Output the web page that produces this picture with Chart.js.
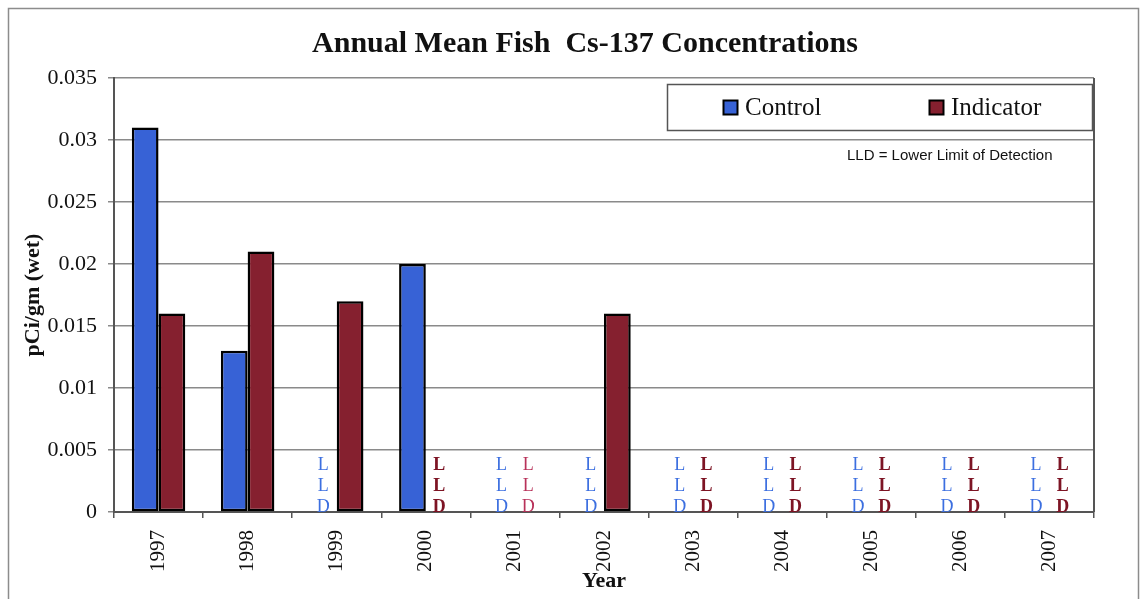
<!DOCTYPE html>
<html>
<head>
<meta charset="utf-8">
<title>Annual Mean Fish Cs-137 Concentrations</title>
<script src="https://cdn.jsdelivr.net/npm/chart.js@4.4.1/dist/chart.umd.min.js"></script>
<style>
  html, body { margin: 0; padding: 0; background: #fff; }
  #wrap { width: 1141px; height: 599px; }
</style>
</head>
<body>
<div id="wrap"><canvas id="fish" width="1141" height="599"></canvas></div>
<script>
// data (null = below LLD)
const years = ['1997', '1998', '1999', '2000', '2001', '2002', '2003', '2004', '2005', '2006', '2007'];
const control = [0.031, 0.013, null, 0.020, null, null, null, null, null, null, null];
const indicator = [0.016, 0.021, 0.017, null, null, 0.016, null, null, null, null, null];
const yTickLabels = ['0', '0.005', '0.01', '0.015', '0.02', '0.025', '0.03', '0.035'];
const lldLetters = ['L', 'L', 'D'];
const lldLevels = [0.0038, 0.0021, 0.0004];

const serif = "'Liberation Serif', 'Times New Roman', serif";
const sans = "'Liberation Sans', Arial, sans-serif";
const catPct = 0.6;

// title, legend box, LLD note, frame, LLD letters
const extras = {
    id: 'extras',
    afterDraw(chart) {
        const ctx = chart.ctx;
        const area = chart.chartArea;
        const xs = chart.scales.x;
        const ys = chart.scales.y;
        ctx.save();

        // outer frame
        ctx.strokeStyle = '#8c8c8c';
        ctx.lineWidth = 1.5;
        ctx.strokeRect(8.5, 8.5, 1130, 596);

        // right border of the plot
        ctx.strokeStyle = '#555';
        ctx.lineWidth = 2;
        ctx.beginPath();
        ctx.moveTo(area.right, area.top);
        ctx.lineTo(area.right, area.bottom);
        ctx.stroke();

        // title
        ctx.fillStyle = '#111';
        ctx.font = 'bold 30px ' + serif;
        ctx.textAlign = 'center';
        ctx.textBaseline = 'alphabetic';
        ctx.fillText('Annual Mean Fish  Cs-137 Concentrations', 585, 52);

        // legend box
        ctx.fillStyle = '#fff';
        ctx.fillRect(667, 84, 426, 47);
        ctx.strokeStyle = '#555';
        ctx.lineWidth = 1.5;
        ctx.strokeRect(667.5, 84.5, 425, 46);
        const legendX = [723, 929];
        ctx.font = '25px ' + serif;
        ctx.textAlign = 'left';
        ctx.textBaseline = 'middle';
        chart.data.datasets.forEach((ds, i) => {
            ctx.fillStyle = ds.backgroundColor;
            ctx.fillRect(legendX[i], 100, 15, 15);
            ctx.strokeStyle = '#000';
            ctx.lineWidth = 2;
            ctx.strokeRect(legendX[i] + 0.5, 100.5, 14, 14);
            ctx.fillStyle = '#111';
            ctx.fillText(ds.label, legendX[i] + 22, 108);
        });

        // LLD note
        ctx.font = '15px ' + sans;
        ctx.fillStyle = '#111';
        ctx.fillText('LLD = Lower Limit of Detection', 847, 156);

        // LLD letters where a year has no value
        const step = xs.getPixelForValue(1) - xs.getPixelForValue(0);
        const shift = step * catPct / 4;
        ctx.textAlign = 'center';
        chart.data.datasets.forEach((ds, i) => {
            ds.data.forEach((v, j) => {
                if (v !== null) return;
                const x = xs.getPixelForValue(j) + (i === 0 ? -shift : shift);
                if (i === 0) {
                    ctx.font = '18px ' + serif;
                    ctx.fillStyle = '#3c6fe0';
                } else if (years[j] === '2001') {
                    ctx.font = '18px ' + serif;
                    ctx.fillStyle = '#b8325a';
                } else {
                    ctx.font = 'bold 18px ' + serif;
                    ctx.fillStyle = '#7d1424';
                }
                lldLetters.forEach((ch, k) => {
                    ctx.fillText(ch, x, ys.getPixelForValue(lldLevels[k]));
                });
            });
        });
        ctx.restore();
    }
};

new Chart(document.getElementById('fish'), {
    type: 'bar',
    data: {
        labels: years,
        datasets: [
            {
                label: 'Control',
                data: control,
                backgroundColor: '#3762d6',
                borderColor: '#000',
                borderWidth: 2.5,
                borderSkipped: false
            },
            {
                label: 'Indicator',
                data: indicator,
                backgroundColor: '#85202f',
                borderColor: '#000',
                borderWidth: 2.5,
                borderSkipped: false
            }
        ]
    },
    options: {
        responsive: false,
        animation: false,
        datasets: {
            bar: { categoryPercentage: catPct, barPercentage: 1.0 }
        },
        layout: {
            padding: { left: 8, right: 47, top: 78, bottom: 0 }
        },
        scales: {
            x: {
                afterFit(scale) { scale.height = 87; },
                grid: {
                    display: true,
                    drawOnChartArea: false,
                    tickLength: 6,
                    color: '#555',
                    lineWidth: 1.5
                },
                border: { color: '#555', width: 2 },
                ticks: {
                    autoSkip: false,
                    minRotation: 90,
                    maxRotation: 90,
                    padding: 12,
                    color: '#111',
                    font: { family: serif, size: 21 }
                },
                title: {
                    display: true,
                    text: 'Year',
                    color: '#111',
                    font: { family: serif, size: 22, weight: 'bold' },
                    padding: { top: 0, bottom: 4 }
                }
            },
            y: {
                min: 0,
                max: 0.035,
                afterFit(scale) { scale.width = 106; },
                afterBuildTicks(scale) {
                    scale.ticks = yTickLabels.map(t => ({ value: parseFloat(t) }));
                },
                grid: {
                    color: '#8a8a8a',
                    lineWidth: 1.5,
                    tickLength: 6
                },
                border: { color: '#555', width: 2 },
                ticks: {
                    padding: 11,
                    color: '#111',
                    font: { family: serif, size: 22 },
                    callback: (v, i) => yTickLabels[i]
                },
                title: {
                    display: true,
                    text: 'pCi/gm (wet)',
                    color: '#111',
                    font: { family: serif, size: 22, weight: 'bold' },
                    padding: { top: 12, bottom: 0 }
                }
            }
        },
        plugins: {
            legend: { display: false },
            title: { display: false },
            tooltip: { enabled: false }
        }
    },
    plugins: [extras]
});
</script>
</body>
</html>
